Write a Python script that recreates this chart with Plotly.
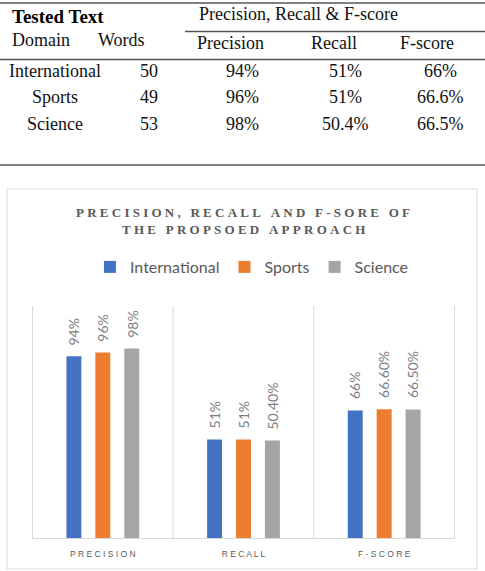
import plotly.graph_objects as go

# ---------------- data ----------------
categories = ["PRECISION", "RECALL", "F-SCORE"]
domains = ["International", "Sports", "Science"]
words = [50, 49, 53]
precision = [94, 96, 98]
recall = [51, 51, 50.4]
fscore = [66, 66.6, 66.5]
colors = ["#4472C4", "#ED7D31", "#A5A5A5"]
title_lines = ["PRECISION, RECALL AND F-SORE OF", "THE PROPSOED APPROACH"]
table_head_left = "Tested Text"
table_head_sub = ["Domain", "Words"]
table_head_right = "Precision, Recall & F-score"
table_cols = ["Precision", "Recall", "F-score"]

W, H = 485, 571
L, R, T, B = 32, 455, 306, 538  # plot area in pixels


def px(x):
    return (x - L) / (R - L)


def py(y):
    return (B - y) / (B - T)


def chart_label(v):
    return f"{v:g}%" if float(v).is_integer() else f"{v:.2f}%"


def table_label(v):
    return f"{v:g}%"


fig = go.Figure()
for i, d in enumerate(domains):
    vals = [precision[i], recall[i], fscore[i]]
    fig.add_trace(go.Bar(name=d, x=categories, y=vals, marker_color=colors[i],
                         marker_line_width=0, hoverinfo="skip"))

annotations = []
shapes = []

# data labels above bars
for i, d in enumerate(domains):
    vals = [precision[i], recall[i], fscore[i]]
    for c, v in zip(categories, vals):
        annotations.append(dict(
            x=c, y=v, xref="x", yref="y", text=chart_label(v), showarrow=False,
            textangle=-90, xanchor="center", yanchor="bottom",
            xshift=(i - 1) * 29, yshift=9,
            font=dict(family="Lato", size=14, color="#7F7F7F")))

# category separators
for xv in [-0.5, 0.5, 1.5, 2.5]:
    shapes.append(dict(type="line", xref="x", yref="y", x0=xv, x1=xv, y0=0, y1=120,
                       line=dict(color="#D9D9D9", width=1)))

# chart box
shapes.append(dict(type="rect", xref="paper", yref="paper",
                   x0=px(7), x1=px(477), y0=py(569), y1=py(189),
                   line=dict(color="#D9D9D9", width=1), layer="below"))

# chart title (letter spaced)
sep = "\u2005"
for k, (line, yy) in enumerate(zip(title_lines, [212, 229.5])):
    annotations.append(dict(
        x=px(243), y=py(yy), xref="paper", yref="paper", showarrow=False,
        text=sep.join(list(line)), xanchor="center", yanchor="middle",
        font=dict(family="Liberation Serif", size=13, color="#595959", weight="bold")))

# ---------------- table ----------------
serif = "Liberation Serif"
tfont = dict(family=serif, size=18, color="#111111")


def tann(text, x, y, anchor="center", font=None):
    annotations.append(dict(x=px(x), y=py(y), xref="paper", yref="paper",
                            text=text, showarrow=False, xanchor=anchor,
                            yanchor="middle", font=font or tfont))


tann(table_head_left, 10, 16, "left",
     dict(family=serif, size=19, color="#000000", weight="bold"))
tann(table_head_sub[0], 10, 39.5, "left")
tann(table_head_sub[1], 96, 39.5, "left")
tann(table_head_right, 197, 14, "left")
for name, xc in zip(table_cols, [230, 334, 427]):
    tann(name, xc, 42.5)

row_y = [71, 96.5, 123.5]
for i in range(len(domains)):
    tann(domains[i], 55, row_y[i])
    tann(str(words[i]), 149, row_y[i])
    tann(table_label(precision[i]), 242, row_y[i])
    tann(table_label(recall[i]), 345, row_y[i])
    tann(table_label(fscore[i]), 440, row_y[i])

lc = "#555555"
for (x0, x1, y) in [(0, 485, 3), (185, 485, 31.5), (0, 485, 59.5), (0, 485, 165)]:
    shapes.append(dict(type="line", xref="paper", yref="paper",
                       x0=px(x0), x1=px(x1), y0=py(y), y1=py(y),
                       line=dict(color=lc, width=1.5)))

fig.update_layout(
    width=W, height=H,
    margin=dict(l=L, r=W - R, t=T, b=H - B, pad=0),
    paper_bgcolor="white", plot_bgcolor="white",
    barmode="group", bargap=0.383, bargroupgap=0.483,
    showlegend=True,
    legend=dict(orientation="h", x=0.52, xanchor="center", y=py(267), yanchor="middle",
                font=dict(family="Lato", size=16, color="#595959"),
                itemclick=False, itemdoubleclick=False),
    xaxis=dict(tickmode="array", tickvals=categories,
               ticktext=[" ".join(list(c)) for c in categories],
               tickfont=dict(family="Liberation Sans", size=8.5, color="#595959"),
               showline=True, linecolor="#D9D9D9", linewidth=1,
               ticks="", ticklabelstandoff=8, showgrid=False, fixedrange=True),
    yaxis=dict(range=[0, 120], visible=False, showgrid=False, fixedrange=True),
    annotations=annotations, shapes=shapes,
)

fig.write_html("out.html", config={"displayModeBar": False})
